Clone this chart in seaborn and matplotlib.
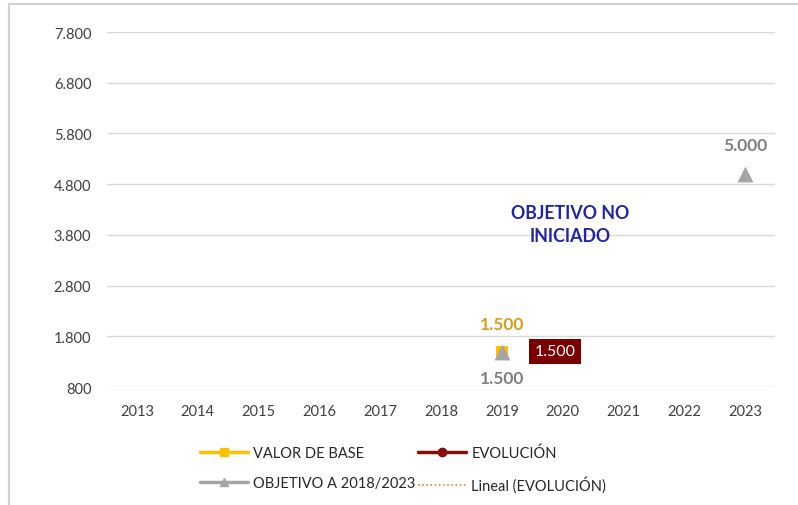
import matplotlib
matplotlib.use("Agg")
import matplotlib.pyplot as plt
import seaborn as sns
import pandas as pd
import numpy as np
from matplotlib.lines import Line2D

years = ["2013", "2014", "2015", "2016", "2017", "2018", "2019", "2020", "2021", "2022", "2023"]
valor_base = [None, None, None, None, None, None, 1500, None, None, None, None]
evolucion = [None, None, None, None, None, None, 1500, None, None, None, None]
objetivo = [None, None, None, None, None, None, 1500, None, None, None, 5000]
y_ticks = [800, 1800, 2800, 3800, 4800, 5800, 6800, 7800]
y_tick_labels = ["800", "1.800", "2.800", "3.800", "4.800", "5.800", "6.800", "7.800"]

sns.set_theme(style="white")
plt.rcParams['font.family'] = ['Lato', 'DejaVu Sans']

C_BASE = "#FFC000"
C_EVO = "#8B0A0A"
C_OBJ = "#A5A5A5"
C_LIN = "#ED7D31"

fig = plt.figure(figsize=(7.98, 5.06), dpi=100)
ax = fig.add_axes([106.6 / 798, 1 - 388 / 506, (775.4 - 106.6) / 798, (388 - 33) / 506])

rows = []
for name, vals in [("VALOR DE BASE", valor_base), ("EVOLUCIÓN", evolucion), ("OBJETIVO A 2018/2023", objetivo)]:
    for i, v in enumerate(vals):
        if v is not None:
            rows.append({"serie": name, "x": i, "year": years[i], "valor": v})
df = pd.DataFrame(rows)

sns.scatterplot(data=df[df.serie == "EVOLUCIÓN"], x="x", y="valor", color=C_EVO, marker="o", s=60, ax=ax, legend=False, linewidth=0, zorder=3)
sns.scatterplot(data=df[df.serie == "VALOR DE BASE"], x="x", y="valor", color=C_BASE, marker="s", s=80, ax=ax, legend=False, linewidth=0, zorder=4)
sns.scatterplot(data=df[df.serie == "OBJETIVO A 2018/2023"], x="x", y="valor", color=C_OBJ, marker="^", s=130, ax=ax, legend=False, linewidth=0, zorder=5)

def fmt(v):
    return f"{v:,.0f}".replace(",", ".")

# labels
for _, r in df.iterrows():
    if r.serie == "VALOR DE BASE":
        ax.annotate(fmt(r.valor), (r.x, r.valor), xytext=(0, 19.5), textcoords="offset points", ha="center", va="center",
                    color="#D4A017", fontsize=12.5, fontweight="bold", zorder=6)
    elif r.serie == "EVOLUCIÓN":
        ax.annotate(fmt(r.valor), (r.x, r.valor), xytext=(38.5, 0), textcoords="offset points", ha="center", va="center",
                    color="white", fontsize=11.5, zorder=6,
                    bbox=dict(boxstyle="square,pad=0.35", fc="#7A0000", ec="none"))
    else:
        off = 21 if r.x == 10 else -19
        ax.annotate(fmt(r.valor), (r.x, r.valor), xytext=(0, off), textcoords="offset points", ha="center", va="center",
                    color="#7F7F7F", fontsize=12.5, fontweight="bold", zorder=6)

ax.text(7.13, 4015, "OBJETIVO NO\nINICIADO", ha="center", va="center", color="#2323A8", fontsize=12.8,
        fontweight="bold", linespacing=1.4)

ax.set_xlim(-0.5, 10.5)
ax.set_ylim(800, 7800)
ax.set_xticks(range(len(years)))
ax.set_xticklabels(years)
ax.set_yticks(y_ticks)
ax.set_yticklabels(y_tick_labels)
ax.tick_params(axis="both", length=0, labelsize=10.5, labelcolor="#404040")
ax.tick_params(axis="y", pad=11)
ax.tick_params(axis="x", pad=12)
ax.set_xlabel("")
ax.set_ylabel("")
ax.grid(axis="y", color="#D9D9D9", linewidth=1)
ax.set_axisbelow(True)
for s in ax.spines.values():
    s.set_visible(False)

handles = [
    Line2D([0], [0], color=C_BASE, lw=2.5, marker="s", markersize=6),
    Line2D([0], [0], color=C_OBJ, lw=2.5, marker="^", markersize=6),
    Line2D([0], [0], color=C_EVO, lw=2.5, marker="o", markersize=6),
    Line2D([0], [0], color=C_LIN, lw=1.2, linestyle=(0, (1, 1.5))),
]
labels = ["VALOR DE BASE", "OBJETIVO A 2018/2023", "EVOLUCIÓN", "Lineal (EVOLUCIÓN)"]
fig.legend(handles, labels, ncol=2, loc="center", bbox_to_anchor=(403 / 798, 1 - 470 / 506), frameon=False,
           fontsize=10.5, handlelength=3.3, columnspacing=0.2, handletextpad=0.35, labelspacing=1.1,
           labelcolor="#262626")

# outer frame lines (left and top)
fig.add_artist(Line2D([9 / 798, 9 / 798], [0, 1 - 5 / 506], color="#D0D0D0", lw=1.5, transform=fig.transFigure))
fig.add_artist(Line2D([9 / 798, 1], [1 - 5 / 506, 1 - 5 / 506], color="#D0D0D0", lw=1.5, transform=fig.transFigure))

fig.savefig("out.png", dpi=100)
